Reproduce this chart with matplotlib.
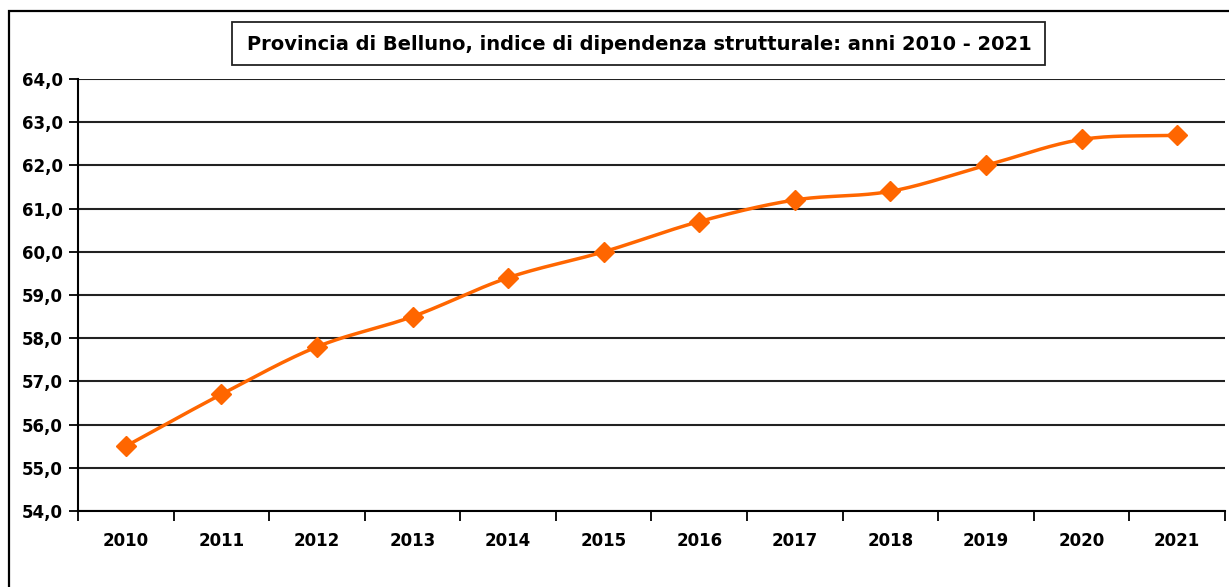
import numpy as np
import matplotlib
matplotlib.use("Agg")
import matplotlib.pyplot as plt
from matplotlib.patches import Rectangle

years = ["2010", "2011", "2012", "2013", "2014", "2015", "2016", "2017", "2018", "2019", "2020", "2021"]
values = [55.5, 56.7, 57.8, 58.5, 59.4, 60.0, 60.7, 61.2, 61.4, 62.0, 62.6, 62.7]
title = "Provincia di Belluno, indice di dipendenza strutturale: anni 2010 - 2021"

plt.rcParams['font.family'] = ['DejaVu Sans']

W, H = 1229, 587
fig = plt.figure(figsize=(W / 100, H / 100), dpi=100)
ax = fig.add_axes([78 / W, 1 - 511 / H, (1225 - 78) / W, (511 - 79) / H])

x = np.arange(len(years))
y = np.array(values)

# smooth curve through the points (Catmull-Rom)
def catmull(xs, ys, n=30):
    px = np.concatenate([[2 * xs[0] - xs[1]], xs, [2 * xs[-1] - xs[-2]]])
    py = np.concatenate([[2 * ys[0] - ys[1]], ys, [2 * ys[-1] - ys[-2]]])
    outx, outy = [], []
    for i in range(1, len(px) - 2):
        t = np.linspace(0, 1, n, endpoint=False)
        for arr, out in ((px, outx), (py, outy)):
            p0, p1, p2, p3 = arr[i - 1], arr[i], arr[i + 1], arr[i + 2]
            out.extend(0.5 * ((2 * p1) + (-p0 + p2) * t + (2 * p0 - 5 * p1 + 4 * p2 - p3) * t ** 2
                              + (-p0 + 3 * p1 - 3 * p2 + p3) * t ** 3))
    outx.append(xs[-1]); outy.append(ys[-1])
    return np.array(outx), np.array(outy)

sx, sy = catmull(x.astype(float), y)
color = "#ff6600"
ax.plot(sx, sy, color=color, lw=2.5, solid_capstyle='round', zorder=3)
ax.plot(x, y, linestyle='none', marker='D', markersize=10, color=color, zorder=4)

ax.set_xlim(-0.5, len(years) - 0.5)
ax.set_ylim(54, 64)
ax.set_yticks(np.arange(54, 64.5, 1.0))
ax.set_yticklabels([f"{v:.1f}".replace('.', ',') for v in np.arange(54, 64.5, 1.0)],
                   fontsize=12, fontweight='bold')
ax.set_xticks(x)
ax.set_xticklabels(years, fontsize=12, fontweight='bold')
ax.set_xticks(np.arange(-0.5, len(years), 1.0), minor=True)
ax.tick_params(axis='x', which='major', length=0, pad=15)
ax.tick_params(axis='x', which='minor', length=7, width=1.3, direction='out')
ax.tick_params(axis='y', length=6.5, width=1.3, direction='out', pad=4.5)
ax.grid(axis='y', color='#222222', lw=1.5, zorder=1)
for s in ('top', 'right'):
    ax.spines[s].set_visible(False)
for s in ('left', 'bottom'):
    ax.spines[s].set_linewidth(1.5)
    ax.spines[s].set_color('black')

fig.text(639 / W, 1 - 44 / H, title, ha='center', va='center', fontsize=14, fontweight='bold')
fig.patches.append(Rectangle((232 / W, 1 - 65 / H), (1045 - 232) / W, (65 - 22) / H,
                             transform=fig.transFigure, facecolor='none',
                             edgecolor='#222222', lw=1.3))

fig.patches.append(Rectangle((9 / W, -0.1), 2.0, 1.1 - 11 / H, transform=fig.transFigure,
                             facecolor='none', edgecolor='black', lw=1.6, zorder=0))

fig.savefig("out.png", dpi=100)
